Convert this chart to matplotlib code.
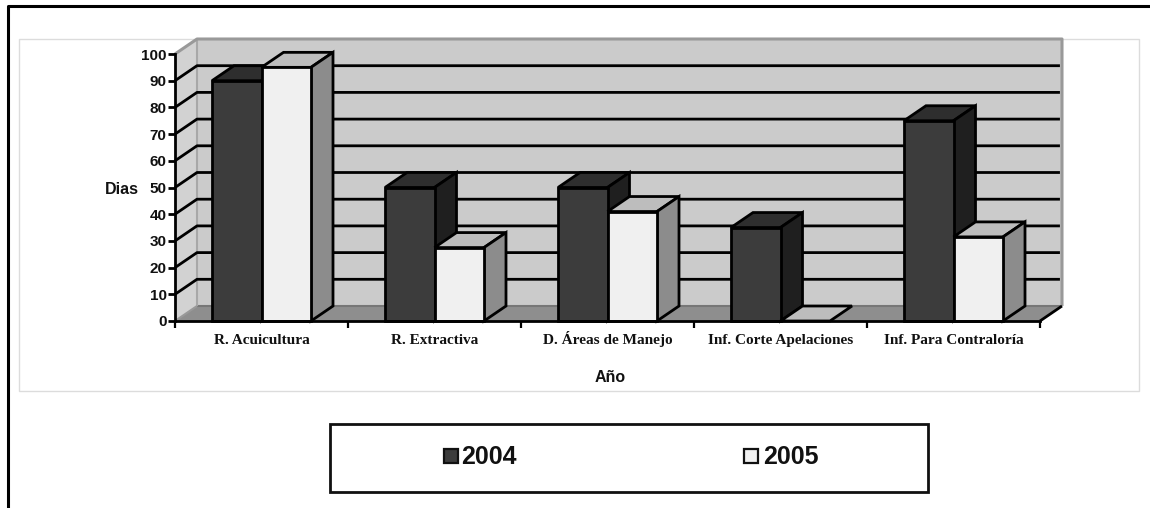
import matplotlib
matplotlib.use("Agg")
import matplotlib.pyplot as plt
from matplotlib.patches import Polygon, Rectangle
from matplotlib.lines import Line2D

categories = ["R. Acuicultura", "R. Extractiva", "D. Áreas de Manejo",
              "Inf. Corte Apelaciones", "Inf. Para Contraloría"]
series_names = ["2004", "2005"]
values_2004 = [90, 50, 50, 35, 75]
values_2005 = [95, 27.5, 41, 0, 31.5]
y_ticks = list(range(0, 101, 10))

W, H = 1150, 508
fig = plt.figure(figsize=(W / 100, H / 100), dpi=100, facecolor="white")

# page-level decorations, in pixel coordinates
bg = fig.add_axes([0, 0, 1, 1], zorder=0)
bg.set_xlim(0, W)
bg.set_ylim(H, 0)
bg.axis("off")
bg.add_line(Line2D([8, 8, W], [H, 6, 6], color="black", lw=2.2))
bg.add_patch(Rectangle((18.5, 38.5), 1120.5, 352.5, fc="white", ec="#dcdcdc", lw=1))
bg.add_patch(Rectangle((329.5, 424), 598, 67.5, fc="white", ec="#111111", lw=2))

L, R, T, B = 175, 1040, 54, 321
ax = fig.add_axes([L / W, 1 - B / H, (R - L) / W, (B - T) / H], zorder=1)
ax.set_xlim(0, len(categories))
ax.set_ylim(0, 100)
ax.patch.set_alpha(0)

px_x = (R - L) / len(categories)
px_y = (B - T) / 100
dx = 22 / px_x
dy = 15 / px_y
n = len(categories)
ymax = y_ticks[-1]


def poly(pts, fc, ec="none", lw=0):
    ax.add_patch(Polygon(pts, closed=True, fc=fc, ec=ec, lw=lw, zorder=1,
                         clip_on=False, joinstyle="miter"))


def seg(xs, ys, color="black", lw=2.0):
    ax.add_line(Line2D(xs, ys, color=color, lw=lw, zorder=1, clip_on=False,
                       solid_capstyle="butt"))


# walls and floor
poly([(dx, dy), (n + dx, dy), (n + dx, ymax + dy), (dx, ymax + dy)], "#cbcbcb")
poly([(0, 0), (dx, dy), (dx, ymax + dy), (0, ymax)], "#d2d2d2")
poly([(0, 0), (n, 0), (n + dx, dy), (dx, dy)], "#8e8e8e")
seg([dx, n + dx], [dy, dy], "#777777", 1.5)
seg([dx, dx], [dy, ymax + dy], "#a8a8a8", 1.5)
seg([0, dx, n + dx, n + dx], [ymax, ymax + dy, ymax + dy, dy], "#999999", 2.2)
seg([0, dx], [0, dy], "#999999", 1.5)
for v in y_ticks[1:-1]:
    seg([0, dx, n + dx - 0.012], [v, v + dy, v + dy])
seg([n, n + dx], [0, dy])

# bars
BW = 49.5 / px_x
EDGE = 2.0
styles = [("#3c3c3c", "#2e2e2e", "#1f1f1f"), ("#f0f0f0", "#bdbdbd", "#8c8c8c")]


def bar3d(x0, h, colors):
    front, top, side = colors
    x1 = x0 + BW
    poly([(x0, h), (x0 + dx, h + dy), (x1 + dx, h + dy), (x1, h)], top, "black", EDGE)
    if h > 0:
        poly([(x1, 0), (x1 + dx, dy), (x1 + dx, h + dy), (x1, h)], side, "black", EDGE)
        poly([(x0, 0), (x1, 0), (x1, h), (x0, h)], front, "black", EDGE)


for i in range(n):
    c = i + 0.5
    bar3d(c - BW, values_2004[i], styles[0])
    bar3d(c, values_2005[i], styles[1])

# axes, ticks, labels
for s in ("top", "right"):
    ax.spines[s].set_visible(False)
for s in ("left", "bottom"):
    ax.spines[s].set_linewidth(2)
    ax.spines[s].set_color("black")
ax.set_yticks(y_ticks)
ax.set_yticklabels([str(v) for v in y_ticks], family="Liberation Sans",
                   fontweight="bold", fontsize=11, color="#111111")
ax.tick_params(axis="y", length=5, width=2, pad=1)
ax.set_xticks(range(n + 1))
ax.set_xticklabels([])
ax.tick_params(axis="x", length=5, width=1.6)
for i, name in enumerate(categories):
    ax.annotate(name, (i + 0.5, 0), xytext=(0, -23), textcoords="offset pixels",
                ha="center", va="baseline", family="Liberation Serif",
                fontweight="bold", fontsize=11, color="#111111")

bg.text(122, 189, "Dias", ha="center", va="center", family="Liberation Sans",
        fontweight="bold", fontsize=11.5, color="#111111")
bg.text(610, 377, "Año", ha="center", va="center", family="Liberation Sans",
        fontweight="bold", fontsize=11.5, color="#111111")

# legend
for name, col, mx, tx in zip(series_names, [styles[0][0], styles[1][0]], [443.5, 744], [461, 763]):
    bg.add_patch(Rectangle((mx, 449), 14, 14, fc=col, ec="#111111", lw=1.6))
    bg.text(tx, 456.5, name, ha="left", va="center", family="Liberation Sans",
            fontweight="bold", fontsize=18, color="#111111")

fig.savefig("out.png", dpi=100)
